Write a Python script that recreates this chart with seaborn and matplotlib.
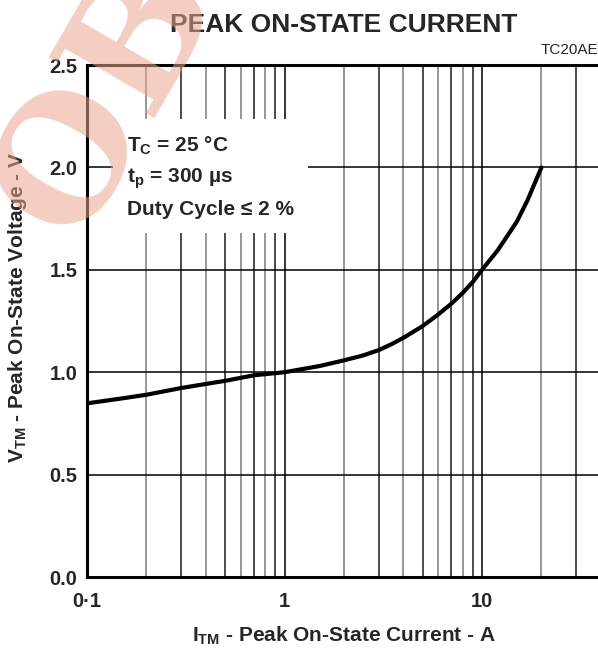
import numpy as np
import pandas as pd
import matplotlib
matplotlib.use("Agg")
import matplotlib.pyplot as plt
import matplotlib.ticker as mticker
import seaborn as sns

# values (Tc = 25 C)
current_a = [0.1, 0.15, 0.2, 0.3, 0.5, 0.7, 1, 1.5, 2, 2.5, 3, 3.5, 4, 5, 6, 7, 8, 9, 10,
             12, 15, 17, 20]
voltage_v = [0.848, 0.872, 0.89, 0.923, 0.958, 0.985, 1.0, 1.03, 1.058, 1.082, 1.108, 1.138,
             1.168, 1.225, 1.282, 1.335, 1.388, 1.442, 1.5, 1.595, 1.735, 1.84, 2.0]

x_ticks = [0.1, 1, 10]
x_tick_labels = ["0\u00b71", "1", "10"]
y_ticks = [0.0, 0.5, 1.0, 1.5, 2.0, 2.5]
y_tick_labels = ["0.0", "0.5", "1.0", "1.5", "2.0", "2.5"]

conditions = [r"T$_{\mathrm{C}}$ = 25 °C",
              r"t$_{\mathrm{p}}$ = 300 µs",
              "Duty Cycle \u2264 2 %"]


def main():
    df = pd.DataFrame({"current": current_a, "voltage": voltage_v})

    sns.set_style("white")
    plt.rcParams["font.family"] = ["Liberation Sans", "DejaVu Sans"]
    plt.rcParams["font.weight"] = "bold"
    plt.rcParams["mathtext.fontset"] = "custom"
    plt.rcParams["mathtext.rm"] = "Liberation Sans:bold"
    plt.rcParams["mathtext.default"] = "rm"

    fig = plt.figure(figsize=(5.98, 6.49), dpi=100)
    # the plot runs on to 100 A, past the cropped right edge of the figure
    ax = fig.add_axes([0.1455, 0.1109, 0.9908, 0.7889])

    sns.lineplot(data=df, x="current", y="voltage", ax=ax, color="black",
                 linewidth=3, zorder=5)

    ax.set_xscale("log")
    ax.set_xlim(0.1, 100)
    ax.set_ylim(0, 2.5)

    ax.set_xticks(x_ticks)
    ax.set_xticklabels(x_tick_labels, fontsize=14.5, fontweight="bold")
    ax.set_yticks(y_ticks)
    ax.set_yticklabels(y_tick_labels, fontsize=14.5, fontweight="bold")
    ax.xaxis.set_minor_locator(mticker.LogLocator(base=10, subs=np.arange(2, 10)))
    ax.xaxis.set_minor_formatter(mticker.NullFormatter())
    ax.tick_params(which="both", length=0)
    ax.tick_params(axis="x", pad=11)
    ax.tick_params(axis="y", pad=7)

    # grid
    ax.grid(which="major", color="black", linewidth=1.1)
    ax.grid(which="minor", axis="x", color="black", linewidth=1.1)
    for tick, loc in zip(ax.xaxis.get_minor_ticks(), ax.xaxis.get_minorticklocs()):
        mult = round(loc / 10 ** np.floor(np.log10(loc) + 1e-9))
        tick.gridline.set_color("#7a7a7a" if mult % 2 == 0 else "#1a1a1a")
    ax.set_axisbelow(True)

    for side in ["left", "bottom", "top", "right"]:
        ax.spines[side].set_visible(True)
        ax.spines[side].set_color("black")
        ax.spines[side].set_linewidth(2.2)

    ax.set_xlabel(r"I$_{\mathrm{TM}}$ - Peak On-State Current - A",
                  fontsize=15, fontweight="bold")
    ax.xaxis.set_label_coords(0.434, -0.094)
    ax.set_ylabel(r"V$_{\mathrm{TM}}$ - Peak On-State Voltage - V",
                  fontsize=15, fontweight="bold")
    ax.yaxis.set_label_coords(-0.098, 0.527)

    fig.text(0.575, 0.962, "PEAK ON-STATE CURRENT", ha="center", va="center",
             fontsize=19, fontweight="bold")
    fig.text(1.0, 0.923, "TC20AE", ha="right", va="center",
             fontsize=11, fontweight="normal")

    ax.text(0.212, 0.793, "\n".join(conditions), transform=fig.transFigure,
            ha="left", va="top", fontsize=15, fontweight="bold",
            linespacing=1.6, zorder=6,
            bbox=dict(facecolor="white", edgecolor="none", pad=10))

    # faint watermark
    fig.text(0.23, 0.93, "OBS", fontsize=120, fontweight="bold",
             family="DejaVu Serif", color="#eba58f", alpha=0.55,
             rotation=60, ha="center", va="center", zorder=10)

    fig.savefig("out.png", dpi=100)


if __name__ == "__main__":
    main()
